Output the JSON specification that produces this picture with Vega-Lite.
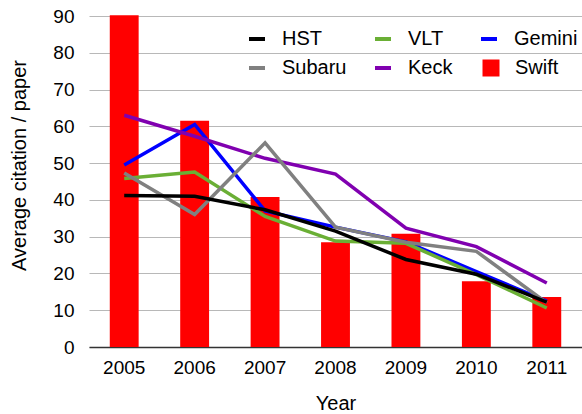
{
  "$schema": "https://vega.github.io/schema/vega-lite/v6.json",
  "width": 493,
  "height": 331,
  "autosize": "none",
  "padding": {"left": 89, "top": 16, "right": 0, "bottom": 67},
  "config": {
    "view": {"stroke": null},
    "font": "Liberation Sans",
    "background": "white"
  },
  "data": {
    "values": [
      {"year": "2005", "series": "Swift", "value": 90.2},
      {"year": "2006", "series": "Swift", "value": 61.5},
      {"year": "2007", "series": "Swift", "value": 40.8},
      {"year": "2008", "series": "Swift", "value": 28.5},
      {"year": "2009", "series": "Swift", "value": 30.8},
      {"year": "2010", "series": "Swift", "value": 17.9},
      {"year": "2011", "series": "Swift", "value": 13.6},
      {"year": "2005", "series": "Gemini", "value": 49.5},
      {"year": "2006", "series": "Gemini", "value": 60.5},
      {"year": "2007", "series": "Gemini", "value": 37.0},
      {"year": "2008", "series": "Gemini", "value": 32.6},
      {"year": "2009", "series": "Gemini", "value": 28.6},
      {"year": "2010", "series": "Gemini", "value": 20.5},
      {"year": "2011", "series": "Gemini", "value": 12.5},
      {"year": "2005", "series": "Keck", "value": 63.0},
      {"year": "2006", "series": "Keck", "value": 57.3},
      {"year": "2007", "series": "Keck", "value": 51.3},
      {"year": "2008", "series": "Keck", "value": 47.0},
      {"year": "2009", "series": "Keck", "value": 32.3},
      {"year": "2010", "series": "Keck", "value": 27.3},
      {"year": "2011", "series": "Keck", "value": 17.4},
      {"year": "2005", "series": "VLT", "value": 45.8},
      {"year": "2006", "series": "VLT", "value": 47.6},
      {"year": "2007", "series": "VLT", "value": 35.5},
      {"year": "2008", "series": "VLT", "value": 28.8},
      {"year": "2009", "series": "VLT", "value": 28.2},
      {"year": "2010", "series": "VLT", "value": 19.7},
      {"year": "2011", "series": "VLT", "value": 10.6},
      {"year": "2005", "series": "Subaru", "value": 47.3},
      {"year": "2006", "series": "Subaru", "value": 36.0},
      {"year": "2007", "series": "Subaru", "value": 55.5},
      {"year": "2008", "series": "Subaru", "value": 32.6},
      {"year": "2009", "series": "Subaru", "value": 28.5},
      {"year": "2010", "series": "Subaru", "value": 26.0},
      {"year": "2011", "series": "Subaru", "value": 12.0},
      {"year": "2005", "series": "HST", "value": 41.2},
      {"year": "2006", "series": "HST", "value": 41.0},
      {"year": "2007", "series": "HST", "value": 37.3},
      {"year": "2008", "series": "HST", "value": 31.5},
      {"year": "2009", "series": "HST", "value": 23.8},
      {"year": "2010", "series": "HST", "value": 19.8},
      {"year": "2011", "series": "HST", "value": 12.2}
    ]
  },
  "encoding": {
    "x": {
      "field": "year",
      "type": "ordinal",
      "scale": {"paddingInner": 0.59, "paddingOuter": 0.295},
      "axis": {
        "title": "Year",
        "labelAngle": 0,
        "labelFontSize": 19,
        "labelColor": "#000000",
        "labelPadding": 11,
        "ticks": false,
        "domainColor": "#333333",
        "domainWidth": 1.5,
        "titleFontSize": 20,
        "titleFontWeight": "normal",
        "titleColor": "#000000",
        "titleY": 56,
        "titleBaseline": "middle"
      }
    },
    "y": {
      "field": "value",
      "type": "quantitative",
      "scale": {"domain": [0, 90], "nice": false},
      "axis": {
        "values": [0, 10, 20, 30, 40, 50, 60, 70, 80, 90],
        "title": "Average citation / paper",
        "labelFontSize": 19,
        "labelColor": "#000000",
        "labelPadding": 15,
        "ticks": false,
        "domain": false,
        "gridColor": "#b8b8b8",
        "gridWidth": 1.2,
        "titleFontSize": 20,
        "titleFontWeight": "normal",
        "titleColor": "#000000",
        "titleX": -70,
        "titleY": 149,
        "titleBaseline": "middle"
      }
    }
  },
  "layer": [
    {
      "transform": [{"filter": "datum.series === 'Swift'"}],
      "mark": {"type": "bar"},
      "encoding": {
        "color": {
          "field": "series",
          "type": "nominal",
          "scale": {"domain": ["Swift"], "range": ["#ff0000"]},
          "legend": {
            "title": null,
            "orient": "none",
            "legendX": 392,
            "legendY": 42,
            "padding": 0,
            "symbolType": "square",
            "symbolSize": 289,
            "symbolStrokeWidth": 0,
            "labelFontSize": 20,
            "labelColor": "#000000",
            "labelOffset": 14
          }
        }
      }
    },
    {
      "transform": [{"filter": "datum.series !== 'Swift'"}],
      "mark": {"type": "line", "strokeWidth": 3.5},
      "encoding": {
        "color": {
          "field": "series",
          "type": "nominal",
          "scale": {
            "domain": ["HST", "Subaru", "VLT", "Keck", "Gemini"],
            "range": ["#000000", "#808080", "#6aaf35", "#8000b0", "#0000ff"]
          },
          "legend": {
            "title": null,
            "orient": "none",
            "legendX": 158,
            "legendY": 13,
            "padding": 0,
            "columns": 3,
            "columnPadding": 20,
            "rowPadding": 9,
            "symbolType": "stroke",
            "symbolSize": 256,
            "symbolStrokeWidth": 4,
            "labelFontSize": 20,
            "labelColor": "#000000",
            "labelOffset": 15
          }
        }
      }
    }
  ],
  "resolve": {"scale": {"color": "independent"}, "legend": {"color": "independent"}}
}
